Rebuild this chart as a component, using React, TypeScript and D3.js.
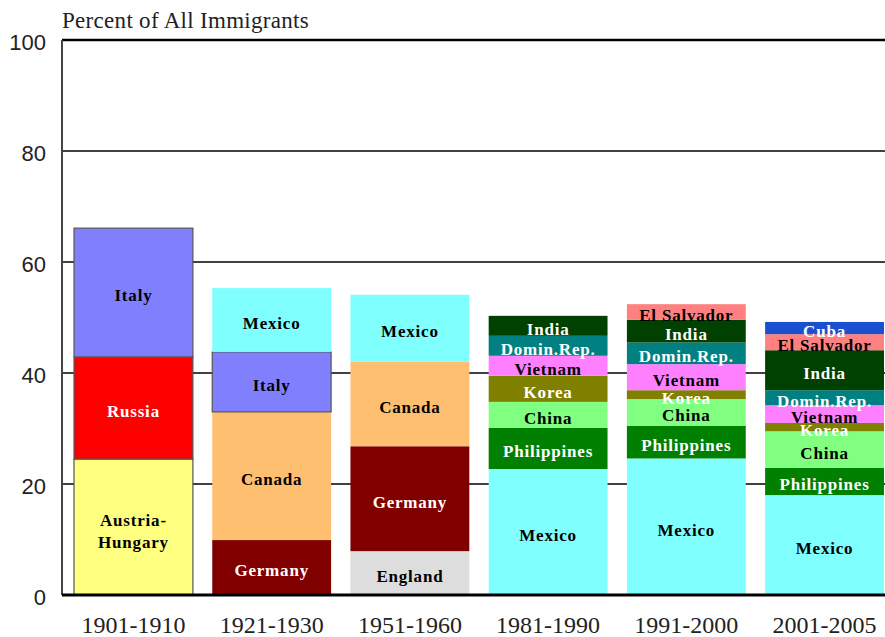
import React from "react";
import * as d3 from "d3";

// decades on the x axis
const periods = ["1901-1910", "1921-1930", "1951-1960", "1981-1990", "1991-2000", "2001-2005"];

// countries per decade, bottom to top, and their share of all immigrants (%)
const countries1901 = ["Austria-Hungary", "Russia", "Italy"];
const values1901 = [24.5, 18.4, 23.2];

const countries1921 = ["Germany", "Canada", "Italy", "Mexico"];
const values1921 = [9.9, 23.1, 10.8, 11.5];

const countries1951 = ["England", "Germany", "Canada", "Mexico"];
const values1951 = [7.9, 18.9, 15.2, 12.1];

const countries1981 = ["Mexico", "Philippines", "China", "Korea", "Vietnam", "Domin.Rep.", "India"];
const values1981 = [22.7, 7.4, 4.7, 4.7, 3.6, 3.6, 3.6];

const countries1991 = ["Mexico", "Philippines", "China", "Korea", "Vietnam", "Domin.Rep.", "India", "El Salvador"];
const values1991 = [24.6, 5.9, 4.8, 1.6, 4.7, 3.9, 4.1, 2.8];

const countries2001 = ["Mexico", "Philippines", "China", "Korea", "Vietnam", "Domin.Rep.", "India", "El Salvador", "Cuba"];
const values2001 = [18.0, 4.9, 6.6, 1.5, 3.2, 2.7, 7.2, 2.9, 2.2];

const yTicks = [0, 20, 40, 60, 80, 100];

const fills: Record<string, string> = {
  "Austria-Hungary": "#ffff80",
  Russia: "#ff0000",
  Italy: "#8080ff",
  Germany: "#800000",
  Canada: "#ffbf70",
  Mexico: "#80ffff",
  England: "#dddddd",
  Philippines: "#008000",
  China: "#80ff80",
  Korea: "#808000",
  Vietnam: "#ff80ff",
  "Domin.Rep.": "#008080",
  India: "#004000",
  "El Salvador": "#ff8080",
  Cuba: "#1a4fd0",
};
const whiteText = ["Russia", "Germany", "Philippines", "Korea", "Domin.Rep.", "India", "Cuba"];

const stacks = [
  [countries1901, values1901],
  [countries1921, values1921],
  [countries1951, values1951],
  [countries1981, values1981],
  [countries1991, values1991],
  [countries2001, values2001],
] as [string[], number[]][];

const W = 885;
const H = 637;
const left = 62;
const top = 40;
const bottom = 595;

export default function App() {
  const x = d3.scaleBand().domain(periods).range([left, 896]).paddingInner(0.14).paddingOuter(0.087);
  const y = d3.scaleLinear().domain([0, 100]).range([bottom, top]);
  const serif = "'Liberation Serif', 'Times New Roman', serif";
  const sans = "'Liberation Sans', Arial, sans-serif";
  const lblSize = 17;
  const lblSpacing = 0.8;

  return (
    <svg width={W} height={H} style={{ position: "absolute", left: 0, top: 0 }}>
      <rect width={W} height={H} fill="#fff" />
      {/* grid */}
      {yTicks.slice(1, 5).map((t) => (
        <line key={t} x1={left} x2={W} y1={y(t)} y2={y(t)} stroke="#000" strokeWidth={1.5} />
      ))}
      <line x1={left} x2={W} y1={y(100)} y2={y(100)} stroke="#000" strokeWidth={2.5} />
      {/* bars */}
      {stacks.map(([names, vals], i) => {
        const p = periods[i];
        const tops = d3.cumsum(vals);
        const bx = x(p)!;
        const bw = x.bandwidth();
        const outlined = i === 0;
        return (
          <g key={p}>
            {names.map((n, j) => {
              const y0 = y(tops[j] - vals[j]);
              const y1 = y(tops[j]);
              const out = outlined || (i === 1 && n === "Italy");
              return (
                <rect key={n} x={bx} y={y1} width={bw} height={y0 - y1} fill={fills[n]}
                  stroke={out ? "#555" : "none"} strokeWidth={out ? 1.2 : 0} />
              );
            })}
            {names.map((n, j) => {
              const cy = (y(tops[j] - vals[j]) + y(tops[j])) / 2 + 3;
              const col = whiteText.includes(n) ? "#fff" : "#000";
              if (n === "Austria-Hungary") {
                return (
                  <text key={n} x={bx + bw / 2} y={cy} textAnchor="middle" fontFamily={serif}
                    fontWeight="bold" fontSize={lblSize} letterSpacing={lblSpacing} fill={col}>
                    <tspan x={bx + bw / 2} dy={-4}>Austria-</tspan>
                    <tspan x={bx + bw / 2} dy={22}>Hungary</tspan>
                  </text>
                );
              }
              return (
                <text key={n} x={bx + bw / 2} y={cy} dy="0.35em" textAnchor="middle" fontFamily={serif}
                  fontWeight="bold" fontSize={lblSize} letterSpacing={lblSpacing} fill={col}>
                  {n}
                </text>
              );
            })}
          </g>
        );
      })}
      {/* axes */}
      <line x1={left} x2={left} y1={top} y2={bottom} stroke="#444" strokeWidth={2} />
      <line x1={left} x2={W} y1={bottom} y2={bottom} stroke="#000" strokeWidth={3} />
      {yTicks.map((t) => (
        <text key={t} x={46} y={y(t) + 2} dy="0.35em" textAnchor="end" fontFamily={sans} fontSize={22} fill="#222">
          {t}
        </text>
      ))}
      {periods.map((p) => (
        <text key={p} x={x(p)! + x.bandwidth() / 2} y={633} textAnchor="middle" fontFamily={serif}
          fontSize={24} fill="#222">
          {p}
        </text>
      ))}
      <text x={62} y={28} fontFamily={serif} fontSize={23} letterSpacing={0.3} fill="#222">Percent of All Immigrants</text>
    </svg>
  );
}
